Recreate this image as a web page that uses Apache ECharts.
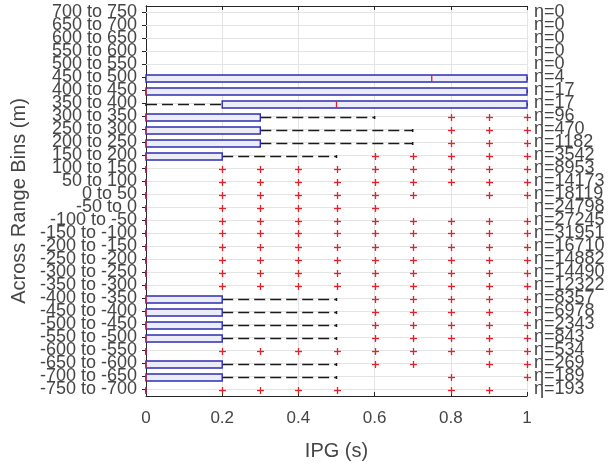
<!DOCTYPE html>
<html>
<head>
<meta charset="utf-8">
<script src="https://cdn.jsdelivr.net/npm/echarts@6/dist/echarts.min.js"></script>
<style>html,body{margin:0;padding:0;background:#fff}#c{width:613px;height:466px}</style>
</head>
<body>
<div id="c"></div>
<script>
// Rows listed top to bottom
const rowLabels = ["700 to 750","650 to 700","600 to 650","550 to 600","500 to 550","450 to 500","400 to 450","350 to 400","300 to 350","250 to 300","200 to 250","150 to 200","100 to 150","50 to 100","0 to 50","-50 to 0","-100 to -50","-150 to -100","-200 to -150","-250 to -200","-300 to -250","-350 to -300","-400 to -350","-450 to -400","-500 to -450","-550 to -500","-600 to -550","-650 to -600","-700 to -650","-750 to -700"];
const counts = [0,0,0,0,0,4,17,17,96,470,1182,3542,8953,14173,18119,24798,27245,31951,16710,14882,14490,12322,8357,6978,2343,843,534,269,189,193];
const q1 = [null,null,null,null,null, 0,0,0.2,0,0, 0,0,0,0,0, 0,0,0,0,0, 0,0,0,0,0, 0,0,0,0,0];
const median = [null,null,null,null,null, 0.75,0,0.5,0,0, 0,0,0,0,0, 0,0,0,0,0, 0,0,0,0,0, 0,0,0,0,0];
const q3 = [null,null,null,null,null, 1,1,1,0.3,0.3, 0.3,0.2,0,0,0, 0,0,0,0,0, 0,0,0.2,0.2,0.2, 0.2,0,0.2,0.2,0];
const whiskerLow = [null,null,null,null,null, 0,0,0,0,0, 0,0,0,0,0, 0,0,0,0,0, 0,0,0,0,0, 0,0,0,0,0];
const whiskerHigh = [null,null,null,null,null, 1,1,1,0.6,0.7, 0.7,0.5,0,0,0, 0,0,0,0,0, 0,0,0.5,0.5,0.5, 0.5,0,0.5,0.5,0];
const outliers = [
  [],[],[],[],[],
  [],[],[],
  [0.8,0.9,1],
  [0.8,0.9,1],
  [0.8,0.9,1],
  [0.6,0.7,0.8,0.9,1],
  [0.2,0.3,0.4,0.5,0.6,0.7,0.8,0.9,1],
  [0.2,0.3,0.4,0.5,0.6,0.7,0.8,0.9,1],
  [0.2,0.3,0.4,0.5,0.6,0.7,0.9,1],
  [0.2,0.3,0.4,0.5,0.6],
  [0.2,0.3,0.4,0.5,0.6,0.7,0.8,0.9,1],
  [0.2,0.3,0.4,0.5,0.6,0.7,0.8,0.9,1],
  [0.2,0.3,0.4,0.5,0.6,0.7,0.8,0.9,1],
  [0.2,0.3,0.4,0.5,0.6,0.7,0.8,0.9,1],
  [0.2,0.3,0.4,0.5,0.6,0.7,0.8,0.9,1],
  [0.2,0.3,0.4,0.5,0.6,0.7,0.8,0.9,1],
  [0.6,0.7,0.8,0.9,1],
  [0.6,0.7,0.8,0.9,1],
  [0.6,0.7,0.8,0.9,1],
  [0.6,0.7,0.8,0.9,1],
  [0.2,0.3,0.4,0.5,0.6,0.7,0.8,0.9,1],
  [0.6,0.7,0.9,1],
  [0.8,1],
  [0.2,0.3,0.4,0.5,0.8,0.9]
];
const xTicks = [0, 0.2, 0.4, 0.6, 0.8, 1];

const FONT = "'Liberation Sans', Arial, sans-serif";
const TXT = '#454545';

const boxData = [];
rowLabels.forEach((r, i) => {
  if (q1[i] !== null) boxData.push([i, q1[i], median[i], q3[i], whiskerLow[i], whiskerHigh[i]]);
});
const gridData = rowLabels.map((r, i) => [i, xTicks[0], xTicks[xTicks.length - 1]]);
const outData = [];
outliers.forEach((arr, i) => arr.forEach(v => outData.push([v, i])));

const chart = echarts.init(document.getElementById('c'), null, {renderer: 'canvas'});
const axisLineStyle = {color: '#262626', width: 1};
chart.setOption({
  animation: false,
  backgroundColor: '#fff',
  grid: {left: 146, right: 86, top: 6, bottom: 69, containLabel: false},
  xAxis: [{
    type: 'value', min: 0, max: 1, interval: 0.2, position: 'bottom',
    name: 'IPG (s)', nameLocation: 'middle', nameGap: 45,
    nameTextStyle: {fontFamily: FONT, fontSize: 20, color: TXT},
    axisLine: {show: true, lineStyle: axisLineStyle},
    axisTick: {show: true, inside: true, length: 4, lineStyle: axisLineStyle},
    axisLabel: {fontFamily: FONT, fontSize: 17, color: TXT, margin: 14, formatter: v => String(+v.toFixed(1))},
    splitLine: {show: true, lineStyle: {color: '#e4e4e4', width: 1}}
  }, {
    type: 'value', min: 0, max: 1, interval: 0.2, position: 'top',
    axisLine: {show: true, lineStyle: axisLineStyle},
    axisTick: {show: true, inside: true, length: 4, lineStyle: axisLineStyle},
    axisLabel: {show: false}, splitLine: {show: false}
  }],
  yAxis: [{
    type: 'category', data: rowLabels, inverse: true, position: 'left',
    name: 'Across Range Bins (m)', nameLocation: 'middle', nameGap: 117, nameRotate: 90,
    nameTextStyle: {fontFamily: FONT, fontSize: 20, color: TXT},
    axisLine: {show: true, lineStyle: axisLineStyle},
    axisTick: {show: true, inside: true, length: 4, alignWithLabel: true, lineStyle: axisLineStyle},
    axisLabel: {interval: 0, fontFamily: FONT, fontSize: 18, color: TXT, margin: 9},
    splitLine: {show: false}
  }, {
    type: 'category', data: rowLabels, inverse: true, position: 'right',
    axisLine: {show: true, lineStyle: axisLineStyle},
    axisTick: {show: true, inside: true, length: 4, alignWithLabel: true, lineStyle: axisLineStyle},
    axisLabel: {interval: 0, fontFamily: FONT, fontSize: 18, color: TXT, margin: 7,
      formatter: (v, i) => 'η=' + counts[i]},
    splitLine: {show: false}
  }],
  series: [{
    type: 'custom', name: 'rowgrid', xAxisIndex: 0, yAxisIndex: 0, z: 1, silent: true,
    data: gridData, encode: {y: 0, x: [1, 2]},
    renderItem: (params, api) => {
      const a = api.coord([api.value(1), api.value(0)]);
      const b = api.coord([api.value(2), api.value(0)]);
      return {type: 'line', shape: {x1: a[0], y1: a[1], x2: b[0], y2: b[1]},
        style: {stroke: '#e4e4e4', lineWidth: 1}};
    }
  }, {
    type: 'custom', name: 'boxes', xAxisIndex: 0, yAxisIndex: 0, z: 3, silent: true,
    data: boxData, encode: {y: 0, x: [1, 2, 3, 4, 5]},
    renderItem: (params, api) => {
      const yi = api.value(0);
      const pq1 = api.coord([api.value(1), yi]);
      const pm = api.coord([api.value(2), yi]);
      const pq3 = api.coord([api.value(3), yi]);
      const pwl = api.coord([api.value(4), yi]);
      const pwh = api.coord([api.value(5), yi]);
      const cy = Math.round(pq1[1]) + 0.5;
      const h = 7;
      const ch = [];
      const wstyle = {stroke: '#1a1a1a', lineWidth: 1.5, lineDash: [11, 5]};
      if (pwl[0] < pq1[0] - 0.5) ch.push({type: 'line', shape: {x1: pwl[0], y1: cy, x2: pq1[0], y2: cy}, style: wstyle});
      if (pwh[0] > pq3[0] + 0.5) ch.push({type: 'line', shape: {x1: pq3[0], y1: cy, x2: pwh[0], y2: cy}, style: wstyle});
      ch.push({type: 'line', shape: {x1: pwl[0], y1: cy - 1.5, x2: pwl[0], y2: cy + 1.5}, style: {stroke: '#1a1a1a', lineWidth: 1.5}});
      ch.push({type: 'line', shape: {x1: pwh[0], y1: cy - 1.5, x2: pwh[0], y2: cy + 1.5}, style: {stroke: '#1a1a1a', lineWidth: 1.5}});
      ch.push({type: 'rect', shape: {x: pq1[0], y: cy - h / 2, width: pq3[0] - pq1[0], height: h},
        style: {fill: '#ededfa', stroke: '#2c2cb4', lineWidth: 1.4}});
      ch.push({type: 'line', shape: {x1: pm[0], y1: cy - h / 2, x2: pm[0], y2: cy + h / 2},
        style: {stroke: '#e0202a', lineWidth: 1.3}});
      return {type: 'group', children: ch};
    }
  }, {
    type: 'custom', name: 'outliers', xAxisIndex: 0, yAxisIndex: 0, z: 4, silent: true,
    data: outData, encode: {x: 0, y: 1},
    renderItem: (params, api) => {
      const p = api.coord([api.value(0), api.value(1)]);
      const x = Math.round(p[0]) + 0.5, y = Math.round(p[1]) + 0.5, s = 3.5;
      return {type: 'group', children: [
        {type: 'line', shape: {x1: x - s, y1: y, x2: x + s, y2: y}, style: {stroke: '#e8202a', lineWidth: 1.3}},
        {type: 'line', shape: {x1: x, y1: y - s, x2: x, y2: y + s}, style: {stroke: '#e8202a', lineWidth: 1.3}}
      ]};
    }
  }]
});
</script>
</body>
</html>
